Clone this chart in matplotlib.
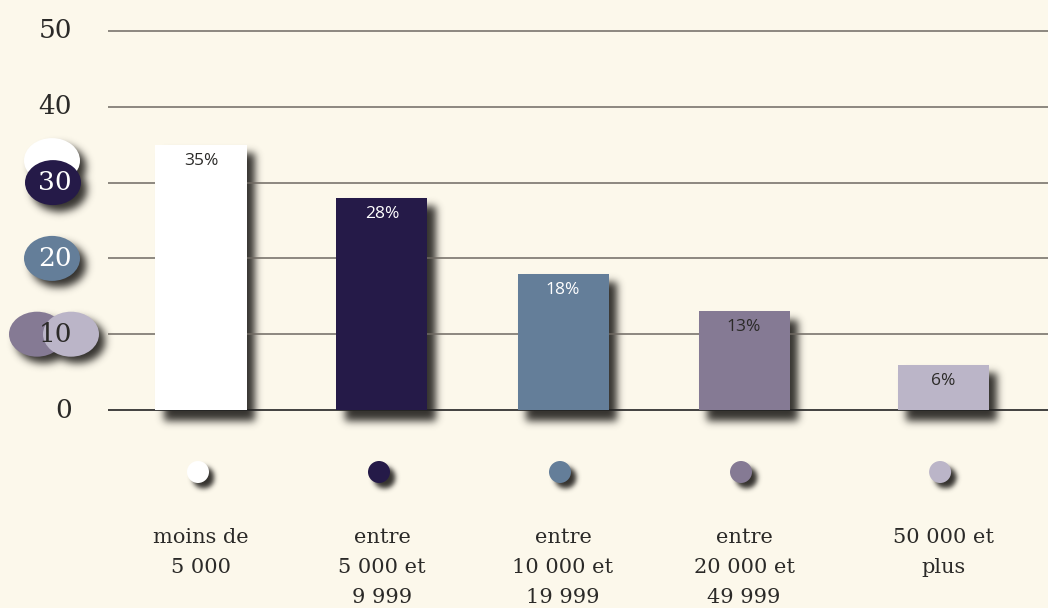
import numpy as np
import matplotlib
matplotlib.use("Agg")
import matplotlib.pyplot as plt
from matplotlib.patches import Ellipse

# ── Data ──────────────────────────────────────────────────────
categories = [
    "moins de\n5 000",
    "entre\n5 000 et\n9 999",
    "entre\n10 000 et\n19 999",
    "entre\n20 000 et\n49 999",
    "50 000 et\nplus",
]
shares = [35, 28, 18, 13, 6]
y_ticks = [0, 10, 20, 30, 40, 50]

# ── Style / layout ────────────────────────────────────────────
BG = "#fcf8eb"
TEXT = "#2b2a28"
bar_colors = ["#ffffff", "#251a48", "#647e99", "#857a94", "#bbb5c8"]
label_colors = [TEXT, "#ffffff", "#ffffff", TEXT, TEXT]
tick_colors = [TEXT, TEXT, "#ffffff", "#ffffff", TEXT, TEXT]

W, H = 1048, 608
X0_PX, Y0_PX = 201, 410      # first category centre / zero line, in pixels from top-left
PX_X, PX_Y = 181, 7.58       # pixels per category step / per percentage point
x_pos = np.array([0, 1, 2, 3, 4.1])


def dx(px):
    return px / PX_X


def dy(px):
    return px / PX_Y


def ax_x(px):
    return (px - X0_PX) / PX_X


def ax_y(px):
    return (Y0_PX - px) / PX_Y


fig = plt.figure(figsize=(W / 100, H / 100), dpi=100)
fig.patch.set_facecolor(BG)
ax = fig.add_axes([0, 0, 1, 1])
ax.set_facecolor(BG)
ax.set_xlim(ax_x(0), ax_x(W))
ax.set_ylim(ax_y(H), ax_y(0))
ax.axis("off")

# ── Grid and tick labels ──────────────────────────────────────
ax.hlines(y_ticks[1:], ax_x(108), ax_x(W), color="#6f6962", lw=1.1, zorder=2)
ax.hlines(0, ax_x(108), ax_x(W), color="#222222", lw=1.2, zorder=2)

# coloured chips behind the tick labels (one per category colour)
chips = [(30, 52, -22, 0), (30, 53, 0, 1), (20, 52, 0, 2), (10, 37, 0, 3), (10, 71, 0, 4)]
chip_w, chip_h = 56, 45
for tick, cx, off, ci in chips:
    ax.add_patch(Ellipse((ax_x(cx), tick - dy(off)), dx(chip_w), dy(chip_h),
                         facecolor=bar_colors[ci], edgecolor="none", zorder=4))

for t, c in zip(y_ticks, tick_colors):
    ax.text(ax_x(72), t, str(t), ha="right", va="center", fontsize=19,
            family="DejaVu Serif", color=c, zorder=5)

# ── Bars ──────────────────────────────────────────────────────
bars = ax.bar(x_pos, shares, width=dx(91), color=bar_colors, zorder=3)
for x, v, c in zip(x_pos, shares, label_colors):
    ax.text(x, v - dy(16), f"{v}%", ha="center", va="center", fontsize=12.5,
            family="Open Sans", color=c, zorder=5)

# ── Category dots and labels ──────────────────────────────────
dot_y = ax_y(472)
ax.scatter(x_pos - dx(3), [dot_y] * len(x_pos), s=(22 * 0.72) ** 2,
           c=bar_colors, edgecolors="none", zorder=4)
for x, name in zip(x_pos, categories):
    ax.text(x, ax_y(528), name, ha="center", va="top", fontsize=15,
            family="DejaVu Serif", color=TEXT, linespacing=1.72, zorder=5)

# ── Soft drop shadows ─────────────────────────────────────────
yy, xx = np.mgrid[0:H, 0:W]


def blur(img, sigma):
    r = int(3 * sigma)
    k = np.exp(-0.5 * (np.arange(-r, r + 1) / sigma) ** 2)
    k /= k.sum()
    img = np.apply_along_axis(lambda m: np.convolve(m, k, mode="same"), 0, img)
    return np.apply_along_axis(lambda m: np.convolve(m, k, mode="same"), 1, img)


def ellipse_mask(cx, cy, a, b):
    return (((xx - cx) / a) ** 2 + ((yy - cy) / b) ** 2 <= 1).astype(float)


to_px = ax.transData.transform

bar_layer = np.zeros((H, W))
for b in bars:
    (x0, y0), (x1, y1) = to_px([(b.get_x(), b.get_y()), (b.get_x() + b.get_width(), b.get_height())])
    r0, r1 = int(H - y1) + 9, int(H - y0) + 11
    bar_layer[r0:r1, int(x0) + 9:int(x1) + 9] = 1
bar_layer = blur(bar_layer, 4)

chip_layer = np.zeros((H, W))
for tick, cx, off, ci in chips:
    px, py = to_px((ax_x(cx), tick - dy(off)))
    chip_layer = np.maximum(chip_layer, ellipse_mask(px + 6, H - py + 6, chip_w / 2, chip_h / 2))
chip_layer = blur(chip_layer, 4)

dot_layer = np.zeros((H, W))
for x in x_pos:
    px, py = to_px((x - dx(3), dot_y))
    dot_layer = np.maximum(dot_layer, ellipse_mask(px + 5, H - py + 5, 11, 11))
dot_layer = blur(dot_layer, 2.5)

alpha = np.clip(np.maximum(np.maximum(bar_layer, chip_layer), dot_layer), 0, 1) * 0.92
shadow = np.zeros((H, W, 4))
shadow[..., :3] = (0.14, 0.13, 0.12)
shadow[..., 3] = alpha
ax.imshow(shadow, extent=(ax_x(0), ax_x(W), ax_y(H), ax_y(0)), origin="upper",
          aspect="auto", interpolation="nearest", zorder=1)
ax.set_xlim(ax_x(0), ax_x(W))
ax.set_ylim(ax_y(H), ax_y(0))

fig.savefig("out.png", dpi=100, facecolor=BG)
